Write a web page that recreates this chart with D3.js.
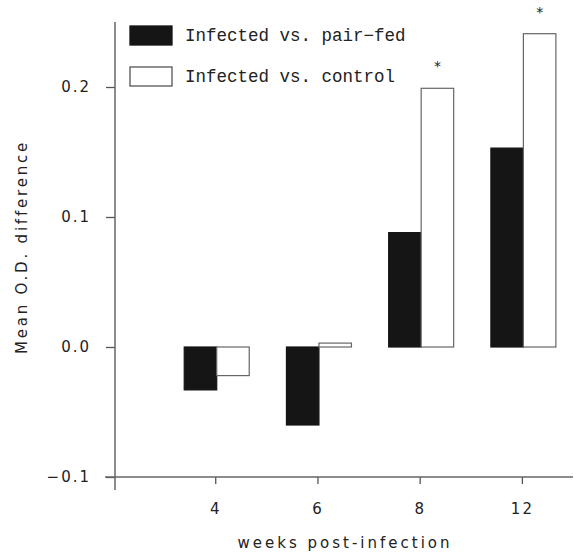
<!DOCTYPE html>
<html>
<head>
<meta charset="utf-8">
<script src="https://cdn.jsdelivr.net/npm/d3@7"></script>
<style>
  body { margin: 0; background: #fff; }
  svg text { fill: #222; }
</style>
</head>
<body>
<div id="chart"></div>
<script>
// data
const weeks = ["4", "6", "8", "12"];
const seriesNames = ["Infected vs. pair-fed", "Infected vs. control"];
const pairFed = [-0.033, -0.060, 0.088, 0.153];
const control = [-0.022, 0.003, 0.199, 0.241];
const significant = [false, false, true, true];
const yTicks = [-0.1, 0.0, 0.1, 0.2];

const W = 574, H = 552;
const svg = d3.select("#chart").append("svg").attr("width", W).attr("height", H);

const x = d3.scaleLinear().domain([0, 4.5]).range([113, 573]);
const y = d3.scaleLinear().domain([-0.1, 0.25]).range([477, 22]);
const sub = d3.scaleBand().domain(seriesNames).range([-31, 34]);
const fills = ["#151515", "#fff"];

const rows = weeks.map((w, i) => ({ i: i + 1, w, vals: [pairFed[i], control[i]], sig: significant[i] }));

// bars
const groups = svg.append("g").selectAll("g").data(rows).join("g")
  .attr("transform", d => `translate(${x(d.i)},0)`);

groups.selectAll("rect").data(d => d.vals.map((v, k) => ({ v, k }))).join("rect")
  .attr("x", d => sub(seriesNames[d.k]))
  .attr("width", sub.bandwidth())
  .attr("y", d => Math.min(y(d.v), y(0)))
  .attr("height", d => Math.max(Math.abs(y(d.v) - y(0)), 1.5))
  .attr("fill", d => fills[d.k])
  .attr("stroke", d => d.k === 0 ? "#151515" : "#666")
  .attr("stroke-width", 1.2);

groups.filter(d => d.sig).append("text")
  .attr("x", sub(seriesNames[1]) + sub.bandwidth() / 2)
  .attr("y", d => y(d.vals[1]) - 17)
  .attr("text-anchor", "middle")
  .style("font", "14px 'DejaVu Sans', sans-serif")
  .text("*");

// y axis
const yAxis = svg.append("g").attr("transform", `translate(${x(0) + 2},0)`)
  .call(d3.axisLeft(y).tickValues(yTicks).tickSize(9).tickPadding(15)
    .tickFormat(d3.format(".1f")));
yAxis.select(".domain").remove();
yAxis.append("line").attr("x1", 0).attr("x2", 0)
  .attr("y1", y(-0.1) + 13).attr("y2", y(0.25))
  .attr("stroke", "#666").attr("stroke-width", 1.5);
yAxis.selectAll(".tick line").attr("stroke", "#555").attr("stroke-width", 1.3);
yAxis.selectAll(".tick text")
  .style("font", "15px 'DejaVu Sans', sans-serif")
  .style("letter-spacing", "2px")
  .text(d => d3.format(".1f")(d).replace("-", "\u2212"));

// x axis
const xAxis = svg.append("g").attr("transform", `translate(0,${y(-0.1)})`)
  .call(d3.axisBottom(x).tickValues(rows.map(d => d.i)).tickSize(7).tickPadding(19)
    .tickFormat((d, i) => weeks[i]));
xAxis.select(".domain").remove();
xAxis.append("line").attr("x1", x(0) - 8).attr("x2", x(4.5))
  .attr("stroke", "#666").attr("stroke-width", 1.5);
xAxis.selectAll(".tick line").attr("stroke", "#555").attr("stroke-width", 1.3);
xAxis.selectAll(".tick text")
  .style("font", "15px 'DejaVu Sans', sans-serif")
  .style("letter-spacing", "2px");

// axis titles
svg.append("text")
  .attr("x", 345).attr("y", 548)
  .attr("text-anchor", "middle")
  .style("font", "15px 'DejaVu Sans', sans-serif")
  .style("letter-spacing", "3px")
  .text("weeks post-infection");

svg.append("text")
  .attr("transform", `translate(27,247) rotate(-90)`)
  .attr("text-anchor", "middle")
  .style("font", "15px 'DejaVu Sans', sans-serif")
  .style("letter-spacing", "2.8px")
  .text("Mean O.D. difference");

// legend
const legend = svg.append("g").attr("transform", "translate(130,26)");
const items = legend.selectAll("g").data(seriesNames).join("g")
  .attr("transform", (d, k) => `translate(0,${k * 41})`);
items.append("rect")
  .attr("width", 42).attr("height", 19)
  .attr("fill", (d, k) => fills[k])
  .attr("stroke", (d, k) => k === 0 ? "#151515" : "#555")
  .attr("stroke-width", 1.3);
items.append("text")
  .attr("x", 55).attr("y", 15)
  .style("font", "17.5px 'Liberation Mono', monospace")
  .text(d => d.replace("-", "\u2212"));
</script>
</body>
</html>
